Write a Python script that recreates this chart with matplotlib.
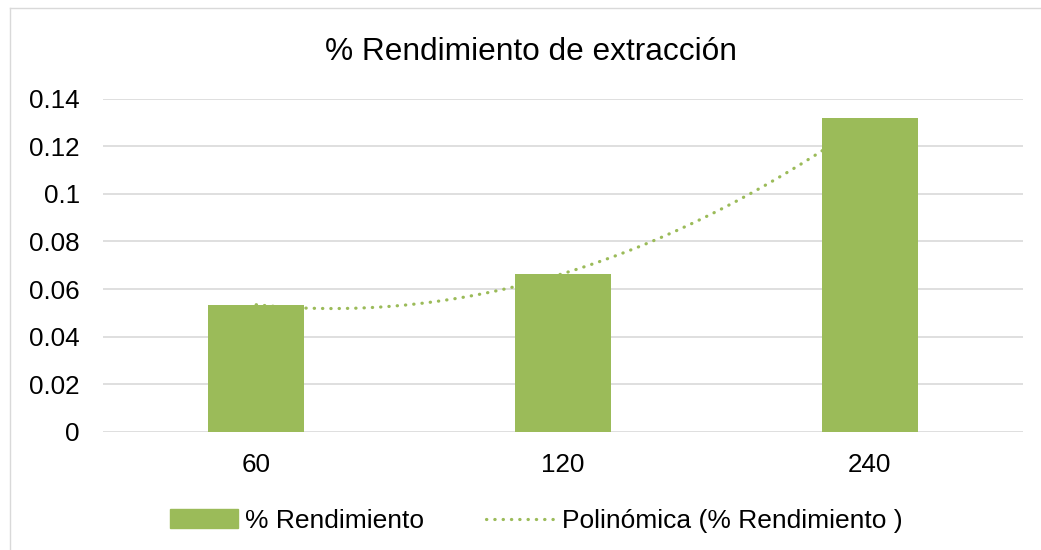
import numpy as np
import matplotlib
matplotlib.use("Agg")
import matplotlib.pyplot as plt
from matplotlib.lines import Line2D

# ── DATA ──────────────────────────────────────────────────────────────────────
categories = ["60", "120", "240"]
rendimiento = [0.0534, 0.0665, 0.1317]
y_ticks = [0, 0.02, 0.04, 0.06, 0.08, 0.1, 0.12, 0.14]
y_tick_labels = ["0", "0.02", "0.04", "0.06", "0.08", "0.1", "0.12", "0.14"]

GREEN = "#9BBB59"
GRID = "#D9D9D9"

plt.rcParams["font.family"] = ["Liberation Sans", "DejaVu Sans"]

fig = plt.figure(figsize=(10.41, 5.5), dpi=100)
ax = fig.add_axes([0.0987, 0.215, 0.8843, 0.6055])

x = np.arange(len(categories))
ax.bar(x, rendimiento, width=0.313, color=GREEN, zorder=3,
       label="% Rendimiento")

# polynomial (order 2) trendline, Excel style: drawn behind the bars
coef = np.polyfit(x, rendimiento, 2)
xs = np.linspace(x[0], x[-1], 200)
ax.plot(xs, np.polyval(coef, xs), color=GREEN, lw=2.3,
        linestyle=(0, (0.1, 2.5)), dash_capstyle="round", zorder=2)

ax.set_xlim(-0.5, len(categories) - 0.5)
ax.set_ylim(0, 0.14)
ax.set_yticks(y_ticks)
ax.set_yticklabels(y_tick_labels)
ax.set_xticks(x)
ax.set_xticklabels(categories)
ax.tick_params(axis="both", length=0, labelsize=18.7, colors="black")
ax.tick_params(axis="y", pad=16.5)
ax.tick_params(axis="x", pad=15)
ax.grid(axis="y", color=GRID, lw=1.2, zorder=0)
ax.set_axisbelow(True)
for s in ax.spines.values():
    s.set_visible(False)

fig.text(0.5105, 0.906, "% Rendimiento de extracción", ha="center",
         va="center", fontsize=22.8)

handles = [
    plt.Rectangle((0, 0), 1, 1, color=GREEN),
    Line2D([0], [0], color=GREEN, lw=2.3, linestyle=(0, (0.1, 2.5)),
           dash_capstyle="round"),
]
fig.legend(handles, ["% Rendimiento", "Polinómica (% Rendimiento )"],
           loc="center", bbox_to_anchor=(0.515, 0.053), ncol=2,
           frameon=False, fontsize=19, handlelength=2.6,
           handletextpad=0.27, columnspacing=2.35)

# chart area border (top and left edges visible)
fig.add_artist(Line2D([10 / 1041, 1.0], [1 - 8 / 550] * 2, color=GRID,
                      lw=1.0, transform=fig.transFigure))
fig.add_artist(Line2D([10 / 1041] * 2, [0.0, 1 - 8 / 550], color=GRID,
                      lw=1.0, transform=fig.transFigure))

fig.savefig("out.png", dpi=100)
